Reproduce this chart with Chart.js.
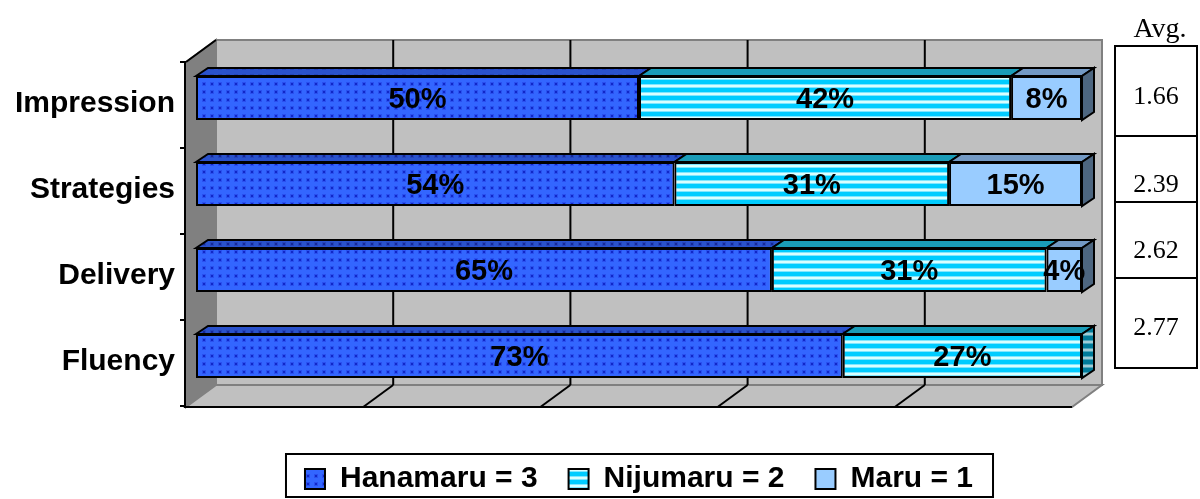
<!DOCTYPE html>
<html>
<head>
<meta charset="utf-8">
<script src="https://cdn.jsdelivr.net/npm/chart.js@4.4.1/dist/chart.umd.min.js"></script>
<style>
  html, body { margin: 0; padding: 0; background: #fff; }
  canvas { display: block; }
</style>
</head>
<body>
<canvas id="chart" width="1200" height="499"></canvas>
<script>
const categories = ["Impression", "Strategies", "Delivery", "Fluency"];
const seriesNames = ["Hanamaru = 3", "Nijumaru = 2", "Maru = 1"];
const hanamaru = [50, 54, 65, 73];
const nijumaru = [42, 31, 31, 27];
const maru = [8, 15, 4, 0];
const avgTitle = "Avg.";
const averages = ["1.66", "2.39", "2.62", "2.77"];
const gridSteps = [0, 20, 40, 60, 80, 100];

const FONT = "'Liberation Sans', Arial, sans-serif";
const SERIF = "'Liberation Serif', 'Times New Roman', serif";
const DX = 12, DY = -8; // depth of the bars

const makePattern = (w, h, paint) => {
  const c = document.createElement("canvas");
  c.width = w;
  c.height = h;
  const g = c.getContext("2d");
  paint(g);
  return g.createPattern(c, "repeat");
};

const dotted = (base, halo, dot) => makePattern(8, 8, (g) => {
  g.fillStyle = base;
  g.fillRect(0, 0, 8, 8);
  g.fillStyle = halo;
  g.fillRect(2, 2, 4, 4);
  g.fillStyle = dot;
  g.fillRect(3, 3, 2, 2);
});

const striped = (base, mid, light) => makePattern(4, 8, (g) => {
  g.fillStyle = base;
  g.fillRect(0, 0, 4, 8);
  g.fillStyle = mid;
  g.fillRect(0, 4, 4, 1);
  g.fillRect(0, 7, 4, 1);
  g.fillStyle = light;
  g.fillRect(0, 5, 4, 2);
});

const fills = [dotted("#3366ff", "#2a50f0", "#1028c8"), striped("#00ccff", "#80e6ff", "#d9ffff"), "#99ccff"];
const tops = [dotted("#2a52cc", "#2445bb", "#15289a"), "#1a9cb8", "#7399c4"];
const sides = [dotted("#1f3d99", "#1a3488", "#102070"), striped("#007a99", "#4da6bb", "#a0ccd6"), "#4d6680"];

const poly = (ctx, pts, fill, stroke) => {
  ctx.beginPath();
  pts.forEach(([px, py], i) => (i ? ctx.lineTo(px, py) : ctx.moveTo(px, py)));
  ctx.closePath();
  if (fill) { ctx.fillStyle = fill; ctx.fill(); }
  if (stroke) { ctx.strokeStyle = stroke; ctx.stroke(); }
};

const line = (ctx, x1, y1, x2, y2) => {
  ctx.beginPath();
  ctx.moveTo(x1, y1);
  ctx.lineTo(x2, y2);
  ctx.stroke();
};

const scene = {
  id: "scene",
  beforeDatasetsDraw(chart) {
    const { ctx, chartArea: a, scales: { x, y } } = chart;
    const bx = (v) => x.getPixelForValue(v) + 20; // back wall
    const fx = (v) => x.getPixelForValue(v) - 10; // front of floor
    const backTop = a.top - 15, backBottom = a.bottom - 14;
    const frontTop = a.top + 7, frontBottom = a.bottom + 8;
    ctx.save();
    ctx.lineWidth = 2;

    // walls and floor
    ctx.fillStyle = "#c0c0c0";
    ctx.fillRect(bx(0), backTop, bx(100) - bx(0), backBottom - backTop);
    ctx.strokeStyle = "#808080";
    ctx.strokeRect(bx(0), backTop, bx(100) - bx(0), backBottom - backTop);
    poly(ctx, [[fx(0), frontTop], [bx(0), backTop], [bx(0), backBottom], [fx(0), frontBottom]], "#808080", "#808080");
    poly(ctx, [[fx(0), frontBottom], [bx(0), backBottom], [bx(100), backBottom], [fx(100), frontBottom]], "#c0c0c0", "#808080");

    // gridlines on the wall and the floor
    ctx.strokeStyle = "#000";
    gridSteps.slice(1, -1).forEach((v) => {
      line(ctx, bx(v), backTop, bx(v), backBottom);
      line(ctx, bx(v), backBottom, fx(v), frontBottom);
    });

    // axis lines and ticks
    line(ctx, fx(0), frontTop, bx(0), backTop);
    ctx.beginPath();
    ctx.moveTo(fx(0) - 1, frontTop);
    ctx.lineTo(fx(0) - 1, frontBottom);
    ctx.lineTo(fx(100), frontBottom);
    ctx.stroke();
    for (let i = 0; i <= categories.length; i++) {
      const ty = y.getPixelForValue(i - 0.5) + 7;
      line(ctx, fx(0) - 6, ty, fx(0), ty);
    }
    ctx.restore();
  },

  afterDatasetsDraw(chart) {
    const { ctx } = chart;
    const sets = chart.data.datasets;
    ctx.save();
    ctx.lineWidth = 2;
    ctx.lineJoin = "miter";
    categories.forEach((c, row) => {
      let lastBox = null, lastSet = -1;
      sets.forEach((ds, di) => {
        if (!(ds.data[row] > 0)) return;
        const el = chart.getDatasetMeta(di).data[row];
        const { x, y, base, height } = el.getProps(["x", "y", "base", "height"], true);
        const l = Math.min(x, base), r = Math.max(x, base), t = y - height / 2;
        poly(ctx, [[l, t], [l + DX, t + DY], [r + DX, t + DY], [r, t]], tops[di], "#000");
        lastBox = { r, t, b: y + height / 2 };
        lastSet = di;
      });
      if (lastBox) {
        const { r, t, b } = lastBox;
        poly(ctx, [[r, t], [r + DX, t + DY], [r + DX, b + DY], [r, b]], sides[lastSet], "#000");
      }
    });

    // percentage labels
    ctx.fillStyle = "#000";
    ctx.font = "bold 29px " + FONT;
    ctx.textAlign = "center";
    ctx.textBaseline = "middle";
    sets.forEach((ds, di) => {
      chart.getDatasetMeta(di).data.forEach((el, row) => {
        const v = ds.data[row];
        if (!(v > 0)) return;
        const { x, y, base } = el.getProps(["x", "y", "base"], true);
        ctx.fillText(v + "%", (x + base) / 2, y + 2);
      });
    });
    ctx.restore();
  },

  afterDraw(chart) {
    const { ctx } = chart;
    ctx.save();
    ctx.strokeStyle = "#000";
    ctx.lineWidth = 2;

    // average table on the right
    const rows = [46, 136, 202, 278, 368];
    const textY = [97, 185, 251, 328];
    ctx.strokeRect(1115, rows[0], 82, rows[4] - rows[0]);
    rows.slice(1, -1).forEach((ry) => line(ctx, 1115, ry, 1197, ry));
    ctx.fillStyle = "#000";
    ctx.textAlign = "center";
    ctx.textBaseline = "middle";
    ctx.font = "28px " + SERIF;
    ctx.fillText(avgTitle, 1160, 30);
    ctx.font = "26px " + SERIF;
    averages.forEach((t, i) => ctx.fillText(t, 1156, textY[i]));

    // frame round the legend
    const hb = chart.legend.legendHitBoxes;
    if (hb && hb.length) {
      const first = hb[0], last = hb[hb.length - 1];
      const left = first.left - 19, right = last.left + last.width + 20;
      const top = first.top - 10, bottom = first.top + first.height + 3;
      ctx.strokeRect(left, top, right - left, bottom - top);
    }
    ctx.restore();
  }
};

new Chart(document.getElementById("chart").getContext("2d"), {
  type: "bar",
  data: {
    labels: categories,
    datasets: [
      { label: seriesNames[0], data: hanamaru, backgroundColor: fills[0] },
      { label: seriesNames[1], data: nijumaru, backgroundColor: fills[1] },
      { label: seriesNames[2], data: maru, backgroundColor: fills[2] }
    ].map((d) => Object.assign(d, {
      borderColor: "#000",
      borderWidth: 2,
      borderSkipped: false,
      categoryPercentage: 1,
      barPercentage: 0.512
    }))
  },
  options: {
    indexAxis: "y",
    responsive: false,
    animation: false,
    events: [],
    layout: { padding: { left: 0, right: 118, top: 55, bottom: -5 } },
    scales: {
      x: {
        type: "linear",
        stacked: true,
        min: 0,
        max: 100,
        grid: { display: false, drawTicks: false },
        border: { display: false },
        ticks: { display: false },
        afterFit: (scale) => { scale.height = 34; }
      },
      y: {
        stacked: true,
        grid: { display: false, drawTicks: false },
        border: { display: false },
        ticks: {
          color: "#000",
          padding: 21,
          labelOffset: 6,
          font: { family: FONT, size: 30, weight: "bold" }
        },
        afterFit: (scale) => { scale.width = 196; }
      }
    },
    plugins: {
      tooltip: { enabled: false },
      legend: {
        position: "bottom",
        fullSize: false,
        labels: {
          color: "#000",
          boxWidth: 20,
          boxHeight: 20,
          padding: 31,
          font: { family: FONT, size: 30, weight: "bold" }
        }
      }
    }
  },
  plugins: [scene]
});
</script>
</body>
</html>
